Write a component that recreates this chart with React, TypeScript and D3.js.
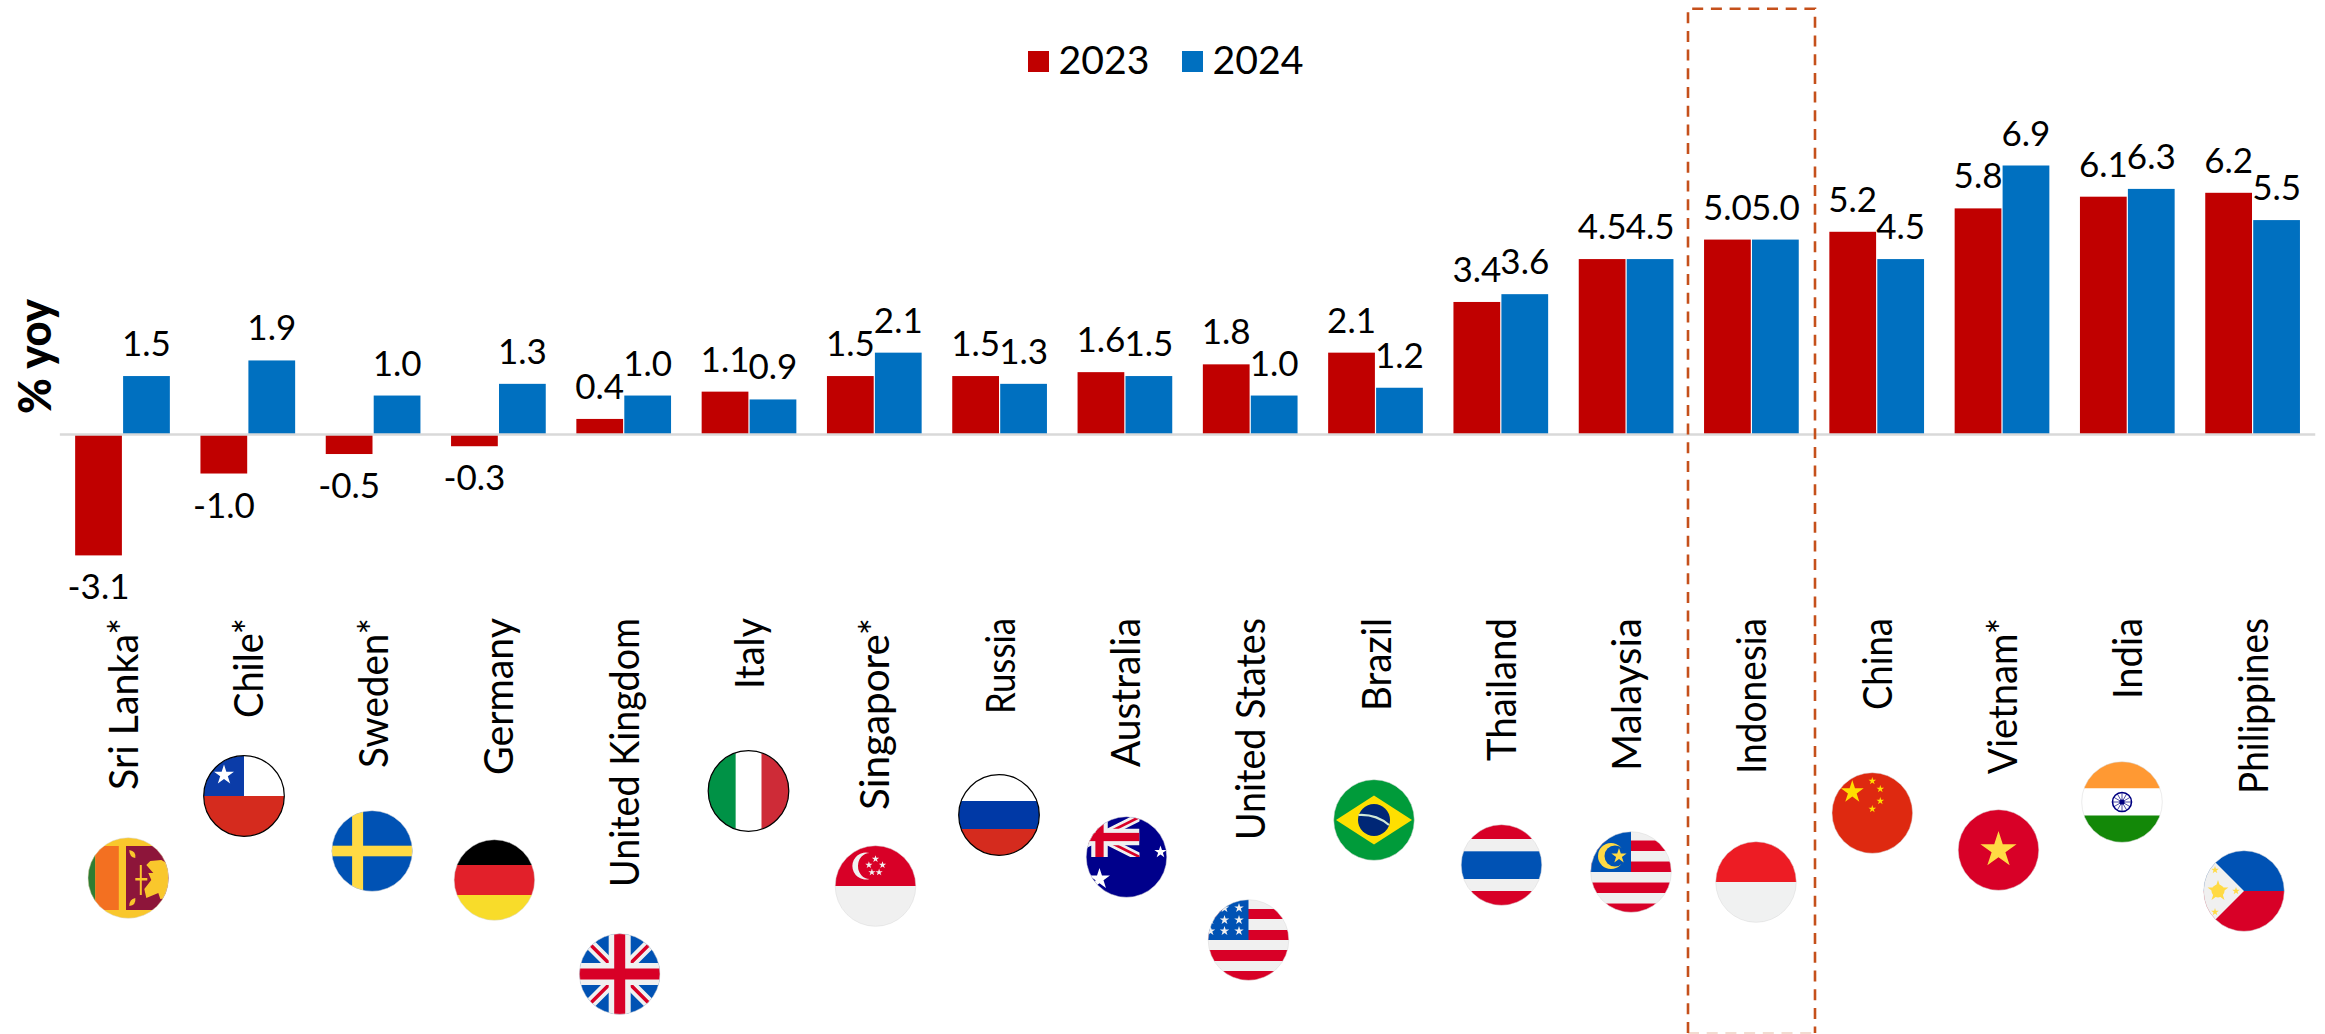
import React from "react";
import * as d3 from "d3";

const countries = ["Sri Lanka*", "Chile*", "Sweden*", "Germany", "United Kingdom", "Italy", "Singapore*", "Russia", "Australia", "United States", "Brazil", "Thailand", "Malaysia", "Indonesia", "China", "Vietnam*", "India", "Philippines"];
const values2023 = [-3.1, -1.0, -0.5, -0.3, 0.4, 1.1, 1.5, 1.5, 1.6, 1.8, 2.1, 3.4, 4.5, 5.0, 5.2, 5.8, 6.1, 6.2];
const values2024 = [1.5, 1.9, 1.0, 1.3, 1.0, 0.9, 2.1, 1.3, 1.5, 1.0, 1.2, 3.6, 4.5, 5.0, 4.5, 6.9, 6.3, 5.5];
const seriesNames = ["2023", "2024"];

// layout only
const labelLengths = [172, 100, 150, 157, 269, 71, 192, 96, 149, 222, 93, 143, 153, 156, 92, 156, 81, 176];
const flagDx = [5.8, -3.8, -1, -4, -4, -0.5, 1.2, -0.6, 1.6, -1.7, -1.5, 0.7, 4.9, 4.6, -4.4, -3.5, -5.3, -8.6];
const flagY = [878, 796, 851, 880, 974, 791, 886, 815, 857, 940, 820, 865, 872, 882, 813, 850, 802, 891];

const W = 2325, H = 1034;
const RED = "#C00000", BLUE = "#0070C0";
const FONT = "Lato, 'Open Sans', sans-serif";
const R = 40.3;

const x = d3.scaleBand<string>().domain(countries).range([59.85, 2315.25]);
const inner = d3.scaleBand<string>().domain(seriesNames).range([15.3, 110]).paddingInner(0.025);
const y = d3.scaleLinear().domain([-3.1, 6.9]).range([555.4, 165.5]);
const colour = d3.scaleOrdinal<string, string>().domain(seriesNames).range([RED, BLUE]);

const starPath = (r: number) => d3.symbol().type(d3.symbolStar).size((r * r) / 0.8908)()!;
const Star = ({ x, y, r, fill }: { x: number; y: number; r: number; fill: string }) => (
  <path d={starPath(r)} transform={`translate(${x},${y})`} fill={fill} />
);
const B = "#0052B4", FR = "#D80027", FW = "#F0F0F0", FY = "#FFDA44";

const Jack = ({ cx, cy, w, h, scale = 1 }: { cx: number; cy: number; w: number; h: number; scale?: number }) => (
  <g transform={`translate(${cx},${cy})`}>
    <path d={`M${-w},${-h}L${w},${h}M${-w},${h}L${w},${-h}`} stroke={FW} strokeWidth={11 * scale} />
    <path d={`M${-w},${-h}L${w},${h}M${-w},${h}L${w},${-h}`} stroke={FR} strokeWidth={3.5 * scale} />
    <rect x={-w} y={-11 * scale} width={2 * w} height={22 * scale} fill={FW} />
    <rect x={-11 * scale} y={-h} width={22 * scale} height={2 * h} fill={FW} />
    <rect x={-w} y={-5.5 * scale} width={2 * w} height={11 * scale} fill={FR} />
    <rect x={-5.5 * scale} y={-h} width={11 * scale} height={2 * h} fill={FR} />
  </g>
);

const bands = (stops: [number, string][]) =>
  stops.map(([top, fill], i) => {
    const bottom = i + 1 < stops.length ? stops[i + 1][0] : 45;
    return <rect key={i} x={-45} y={top} width={90} height={bottom - top} fill={fill} />;
  });

const flagArt: Record<string, () => React.ReactNode> = {
  "Sri Lanka*": () => (
    <>
      <rect x={-45} y={-45} width={90} height={90} fill="#F9C72C" />
      <rect x={-45} y={-32} width={12} height={64} fill="#2E7D32" />
      <rect x={-33} y={-32} width={23.5} height={64} fill="#F37021" />
      <rect x={-2.3} y={-32} width={47} height={64} fill="#8D153A" />
      <path d="M18,-13 L22,-17 L33,-18 L40,-14 L40,20 L32,21 L30,15 L18,20 L16,11 L23,2 L20,-5 L25,-5 Z" fill="#F9C72C" />
      <rect x={11.5} y={-13} width={2} height={30} fill="#F9C72C" />
      <rect x={7} y={0} width={12} height={2.5} fill="#F9C72C" />
      <path d="M1,-28 Q8,-27 7,-20 Q1,-21 1,-28Z M1,28 Q8,27 7,20 Q1,21 1,28Z" fill="#F9C72C" />
    </>
  ),
  "Chile*": () => (
    <>
      {bands([[-45, "#FFFFFF"], [0, "#D52B1E"]])}
      <rect x={-45} y={-45} width={45} height={45} fill="#0B3CA8" />
      <Star x={-20} y={-21} r={10.5} fill="#FFF" />
    </>
  ),
  "Sweden*": () => (
    <>
      <rect x={-45} y={-45} width={90} height={90} fill={B} />
      <rect x={-20} y={-45} width={11} height={90} fill={FY} />
      <rect x={-45} y={-5.3} width={90} height={10.6} fill={FY} />
    </>
  ),
  Germany: () => <>{bands([[-45, "#000000"], [-15, "#E2202A"], [15, "#F8DC2A"]])}</>,
  "United Kingdom": () => (
    <>
      <rect x={-45} y={-45} width={90} height={90} fill={B} />
      <Jack cx={0} cy={0} w={45} h={45} />
    </>
  ),
  Italy: () => (
    <>
      <rect x={-45} y={-45} width={32.3} height={90} fill="#009246" />
      <rect x={-12.7} y={-45} width={26} height={90} fill="#FFF" />
      <rect x={13} y={-45} width={32} height={90} fill="#CE2B37" />
    </>
  ),
  "Singapore*": () => (
    <>
      {bands([[-45, FR], [0, FW]])}
      <path d="M-6,-33 A13.5,13.5 0 1 0 -6,-7 A11.5,13 0 1 1 -6,-33Z" fill={FW} />
      {[[0, -27], [-6.6, -21], [7, -21], [-3.6, -13.7], [3.6, -13.7]].map(([a, b], i) => (
        <Star key={i} x={a} y={b} r={3.8} fill={FW} />
      ))}
    </>
  ),
  Russia: () => <>{bands([[-45, "#FFFFFF"], [-14, "#0039A6"], [14, "#D52B1E"]])}</>,
  Australia: () => (
    <>
      <rect x={-45} y={-45} width={90} height={90} fill="#00008B" />
      <clipPath id="auJack"><rect x={-45} y={-45} width={58} height={45} /></clipPath>
      <g clipPath="url(#auJack)"><Jack cx={-27} cy={-20} w={40} h={20} scale={0.75} /></g>
      <Star x={-27} y={22} r={11} fill="#FFF" />
      <Star x={34} y={-5} r={6.5} fill="#FFF" />
    </>
  ),
  "United States": () => (
    <>
      {bands([[-45, FW], [-31, FR], [-21, FW], [-10, FR], [0, FW], [10, FR], [21, FW], [31, FR]])}
      <rect x={-45} y={-45} width={45} height={45} fill={B} />
      {[-38, -24, -9.5].flatMap((a) => [-32, -20, -9].map((b) => <Star key={`${a}${b}`} x={a} y={b} r={5} fill={FW} />))}
    </>
  ),
  Brazil: () => (
    <>
      <rect x={-45} y={-45} width={90} height={90} fill="#009B3A" />
      <path d="M-38,0L0,-24.5L38,0L0,24.5Z" fill="#FEDF00" />
      <circle r={16} fill="#002776" />
      <path d="M-15.5,-5 Q2,-6 15,5" fill="none" stroke="#CFE8D8" strokeWidth={2.2} />
    </>
  ),
  Thailand: () => <>{bands([[-45, FR], [-26, FW], [-13.7, B], [14, FW], [26, FR]])}</>,
  Malaysia: () => (
    <>
      {bands([[-45, FW], [-31.5, FR], [-21, FW], [-10.5, FR], [0, FW], [10.5, FR], [21, FW], [31.5, FR]])}
      <rect x={-45} y={-45} width={45} height={45} fill={B} />
      <circle cx={-20} cy={-16} r={13} fill={FY} />
      <circle cx={-16} cy={-16} r={10.5} fill={B} />
      <Star x={-12} y={-16} r={8} fill={FY} />
    </>
  ),
  Indonesia: () => <>{bands([[-45, "#ED1C24"], [0, "#F0F1F1"]])}</>,
  China: () => (
    <>
      <rect x={-45} y={-45} width={90} height={90} fill="#DE2910" />
      <Star x={-20} y={-21} r={12} fill="#FFDE00" />
      {[[0, -32], [8, -24], [8, -12], [0, -4]].map(([a, b], i) => <Star key={i} x={a} y={b} r={4} fill="#FFDE00" />)}
    </>
  ),
  "Vietnam*": () => (
    <>
      <rect x={-45} y={-45} width={90} height={90} fill={FR} />
      <Star x={0} y={0} r={19} fill={FY} />
    </>
  ),
  India: () => (
    <>
      {bands([[-45, "#FF9933"], [-13.5, "#FFFFFF"], [13.5, "#138808"]])}
      <circle r={9.5} fill="#FFF" stroke="#000080" strokeWidth={1.6} />
      <circle r={2.6} fill="#000080" />
      {d3.range(12).map((i) => {
        const a = (i * Math.PI) / 6;
        return <line key={i} x2={9 * Math.cos(a)} y2={9 * Math.sin(a)} stroke="#000080" strokeWidth={0.7} />;
      })}
    </>
  ),
  Philippines: () => (
    <>
      {bands([[-45, B], [0, FR]])}
      <path d="M0,0L-45,-45L-45,45Z" fill={FW} />
      <Star x={-26} y={0} r={11} fill={FY} />
      <circle cx={-26} cy={0} r={6.5} fill={FY} />
      {[[-29, -21], [-29, 21], [-8, 0]].map(([a, b], i) => <Star key={i} x={a} y={b} r={4} fill={FY} />)}
    </>
  ),
};
const outlined = new Set(["Chile*", "Italy", "Russia"]);

const Flag = ({ name, index }: { name: string; index: number }) => {
  const cx = x(name)! + x.bandwidth() / 2 + flagDx[index];
  const cy = flagY[index];
  const id = `flag${index}`;
  return (
    <g transform={`translate(${cx},${cy})`}>
      <clipPath id={id}><circle r={R} /></clipPath>
      <g clipPath={`url(#${id})`}>{flagArt[name]()}</g>
      <circle r={R} fill="none" stroke={outlined.has(name) ? "#000" : "#D9D9D9"} strokeWidth={outlined.has(name) ? 1.2 : 0.5} />
    </g>
  );
};

const series = [values2023, values2024];

export default function App() {
  return (
    <svg width={W} height={H} viewBox={`0 0 ${W} ${H}`} style={{ position: "absolute", left: 0, top: 0, background: "#fff" }} fontFamily={FONT}>
      {/* bars */}
      {countries.map((c, i) =>
        seriesNames.map((s, k) => {
          const v = series[k][i];
          const bx = x(c)! + inner(s)!;
          return (
            <rect key={c + s} x={bx} width={inner.bandwidth()} y={Math.min(y(v), y(0))} height={Math.abs(y(v) - y(0))} fill={colour(s)} />
          );
        })
      )}
      <line x1={x.range()[0]} x2={x.range()[1]} y1={y(0)} y2={y(0)} stroke="#D9D9D9" strokeWidth={2.5} />

      {/* value labels */}
      {countries.map((c, i) =>
        seriesNames.map((s, k) => {
          const v = series[k][i];
          const bx = x(c)! + inner(s)! + inner.bandwidth() / 2;
          return (
            <text key={c + s} x={bx} y={v >= 0 ? y(v) - 20 : y(v) + 44} textAnchor="middle" fontSize={35} fill="#000">
              {v.toFixed(1)}
            </text>
          );
        })
      )}

      {/* country labels */}
      {countries.map((c, i) => (
        <text
          key={c}
          transform={`translate(${x(c)! + x.bandwidth() / 2 + 15},618) rotate(-90)`}
          textAnchor="end"
          fontSize={41}
          fill="#000"
          textLength={labelLengths[i]}
          lengthAdjust="spacingAndGlyphs"
        >
          {c}
        </text>
      ))}

      {/* flags */}
      {countries.map((c, i) => <Flag key={c} name={c} index={i} />)}

      {/* highlight */}
      <path d="M1688,1033 L1688,8.7 L1815,8.7 L1815,1033" fill="none" stroke="#C5501B" strokeWidth={2.6} strokeDasharray="11 7.7" />
      <line x1={1688} x2={1815} y1={1033} y2={1033} stroke="#C5501B" strokeWidth={2} strokeDasharray="11 7.7" opacity={0.2} />

      {/* legend */}
      {seriesNames.map((s, k) => (
        <g key={s}>
          <rect x={1028 + k * 154} y={51} width={21} height={21} fill={colour(s)} />
          <text x={1058.5 + k * 154} y={74} fontSize={38} fill="#000" textLength={91} lengthAdjust="spacingAndGlyphs">{s}</text>
        </g>
      ))}

      {/* axis title */}
      <text transform="translate(51,414) rotate(-90)" fontSize={46} fontWeight={900} fill="#000" textLength={115} lengthAdjust="spacingAndGlyphs">% yoy</text>
    </svg>
  );
}
